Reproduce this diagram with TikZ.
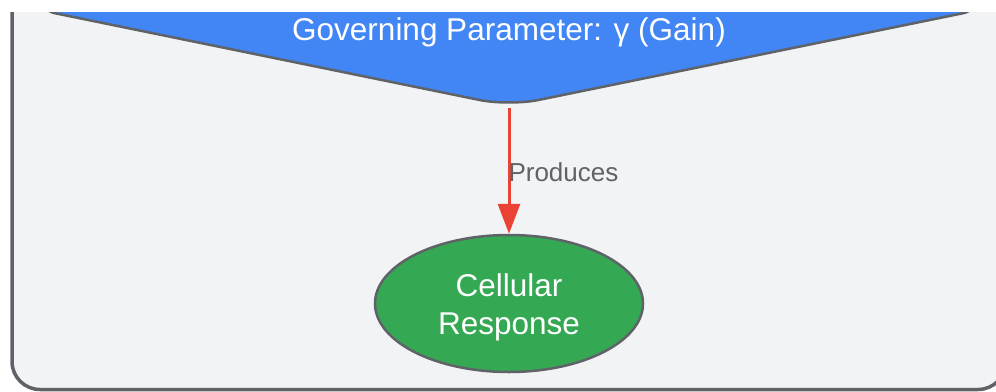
\documentclass[tikz,border=0pt]{standalone}
\usepackage{fontspec}
\setmainfont{Liberation Sans}
\usetikzlibrary{arrows.meta,shapes.geometric}

\definecolor{panelgray}{HTML}{F1F3F4}
\definecolor{edgegray}{HTML}{5F6368}
\definecolor{gblue}{HTML}{4285F4}
\definecolor{ggreen}{HTML}{34A853}
\definecolor{gred}{HTML}{EA4335}

\begin{document}
\begin{tikzpicture}[x=1pt,y=-1pt]
		\useasboundingbox (0,0) rectangle (996,391);
		\clip (0,12) rectangle (996,391);

		\draw[fill=panelgray, draw=edgegray, line width=3.5pt, rounded corners=28pt] (12,-40) rectangle (1006,389.5);

		\draw[fill=gblue, draw=edgegray, line width=2.5pt, rounded corners=4pt]
		(509,-80) -- (969,12) -- (739,59) [rounded corners=30pt] -- (509,106) -- (279,59) [rounded corners=4pt] -- (49,12) -- cycle;
		\draw (509,40) node [anchor=base, text=white, font=\fontsize{31.5}{38}\selectfont] (param) {Governing Parameter: γ (Gain)};
		\coordinate (tip) at (509,103);

		\draw (509,303.5) node [ellipse, draw=edgegray, fill=ggreen, line width=2.5pt, minimum width=268pt, minimum height=137pt, inner sep=0pt, text=white, align=center, font=\fontsize{31.5}{38}\selectfont] (resp) {\rule{0pt}{31pt}Cellular\\Response};

		\draw[gred, line width=3pt, -{Triangle[length=30pt,width=22pt]}, shorten <=5pt]
		(tip) -- (resp.north) node [pos=0.53, anchor=west, xshift=-2pt, inner sep=0pt, text=edgegray, font=\fontsize{26}{31}\selectfont] {Produces};
	\end{tikzpicture}
\end{document}
